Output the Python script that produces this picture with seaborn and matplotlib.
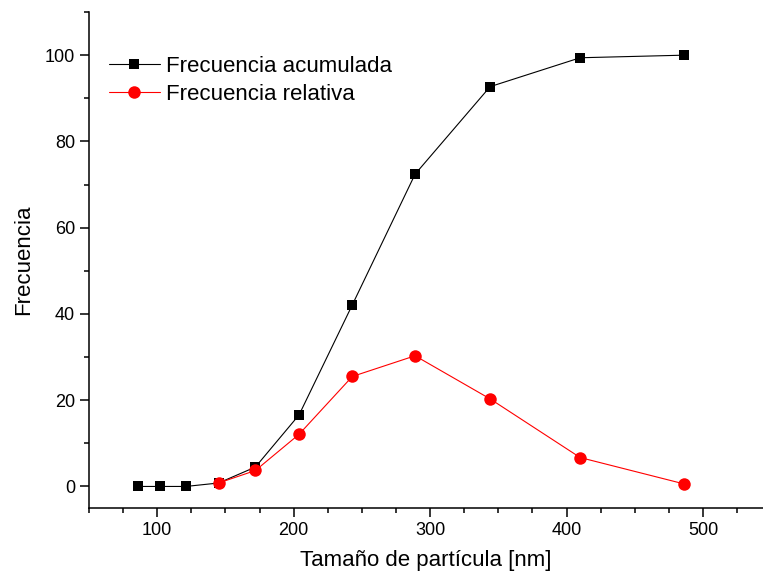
import numpy as np
import pandas as pd
import seaborn as sns
import matplotlib
matplotlib.use('Agg')
import matplotlib.pyplot as plt
from matplotlib.ticker import MultipleLocator

# Data
tam_acum = [86, 102, 121, 145, 172, 204, 243, 289, 344, 410, 486]
frec_acum = [0, 0, 0, 0.8, 4.5, 16.6, 42.1, 72.4, 92.7, 99.4, 100]
tam_rel = [145, 172, 204, 243, 289, 344, 410, 486]
frec_rel = [0.8, 3.7, 12.1, 25.5, 30.3, 20.3, 6.7, 0.6]

sns.set_style('ticks')
plt.rcParams['font.family'] = ['Liberation Sans', 'DejaVu Sans']
plt.rcParams.update({'text.color': 'black', 'axes.labelcolor': 'black',
                     'xtick.color': 'black', 'ytick.color': 'black',
                     'axes.edgecolor': 'black'})

fig = plt.figure(figsize=(7.63, 5.79), dpi=100)
ax = fig.add_axes([0.1166, 0.1226, 0.8834, 0.8566])

sns.lineplot(x=tam_acum, y=frec_acum, ax=ax, color='black', marker='s',
             markersize=7.5, markeredgewidth=0, linewidth=0.8,
             label='Frecuencia acumulada')
sns.lineplot(x=tam_rel, y=frec_rel, ax=ax, color='red', marker='o',
             markersize=9, markeredgewidth=0, linewidth=0.8,
             label='Frecuencia relativa')

ax.set_xlim(50, 544)
ax.set_ylim(-5, 110)
ax.xaxis.set_major_locator(MultipleLocator(100))
ax.xaxis.set_minor_locator(MultipleLocator(25))
ax.yaxis.set_major_locator(MultipleLocator(20))
ax.yaxis.set_minor_locator(MultipleLocator(10))
ax.tick_params(which='major', length=6.5, width=1.1, labelsize=13, direction='out')
ax.tick_params(which='minor', length=3.5, width=1.1, direction='out')
for s in ['top', 'right']:
    ax.spines[s].set_visible(False)
for s in ['left', 'bottom']:
    ax.spines[s].set_linewidth(1.1)

ax.set_xlabel('Tamaño de partícula [nm]', fontsize=16, labelpad=8)
ax.set_ylabel('Frecuencia', fontsize=16, labelpad=8)

ax.legend(loc='upper left', bbox_to_anchor=(0.016, 0.93), frameon=False,
          fontsize=16, handlelength=2.3, handletextpad=0.3, labelspacing=0.33,
          borderaxespad=0)

fig.savefig('out.png', dpi=100)
